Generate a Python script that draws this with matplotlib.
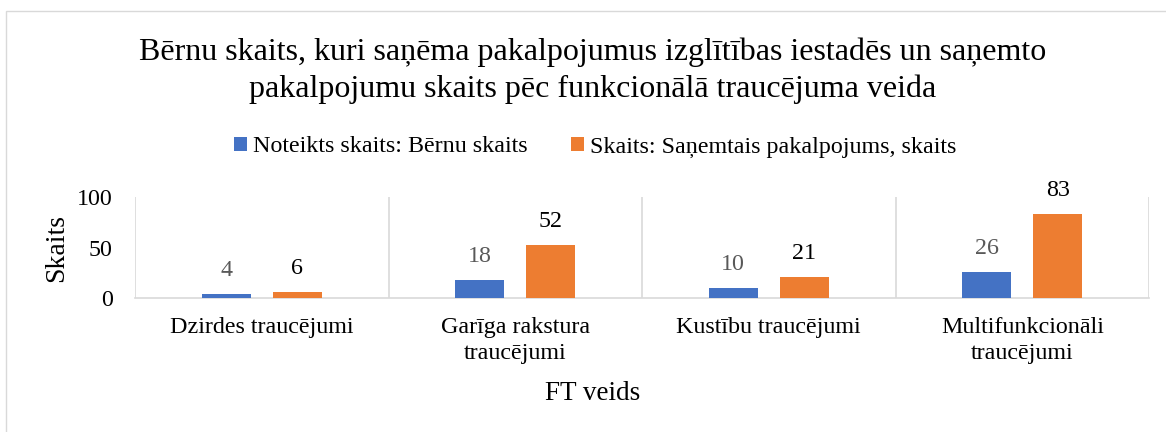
import matplotlib
matplotlib.use("Agg")
import matplotlib.pyplot as plt
import numpy as np
from matplotlib.patches import Rectangle

categories = ["Dzirdes traucējumi", "Garīga rakstura\ntraucējumi",
              "Kustību traucējumi", "Multifunkcionāli\ntraucējumi"]
bernu_skaits = [4, 18, 10, 26]
pakalpojumi = [6, 52, 21, 83]
series_names = ["Noteikts skaits: Bērnu skaits", "Skaits: Saņemtais pakalpojums, skaits"]
yticks = [0, 50, 100]

plt.rcParams['font.family'] = ['Liberation Serif', 'DejaVu Serif']

W, H = 1166, 432
fig = plt.figure(figsize=(W / 100, H / 100), dpi=100)

# outer border
fig.add_artist(Rectangle((6 / W, -0.1), 1.2, (H - 11) / H + 0.1, transform=fig.transFigure,
                         fill=False, edgecolor='#D9D9D9', linewidth=1.0))

ax = fig.add_axes([135 / W, (H - 298) / H, (1149 - 135) / W, (298 - 197) / H])
x = np.arange(len(categories))
bw = 0.195
off = 0.14
blue, orange = '#4472C4', '#ED7D31'
b1 = ax.bar(x - off, bernu_skaits, bw, color=blue, label=series_names[0], zorder=3)
b2 = ax.bar(x + off, pakalpojumi, bw, color=orange, label=series_names[1], zorder=3)

fs = 17.3
for rect, v in zip(b1, bernu_skaits):
    ax.annotate(str(v), (rect.get_x() + rect.get_width() / 2, v), xytext=(0, 17),
                textcoords='offset points', ha='center', va='center', fontsize=fs, color='#595959')
for rect, v in zip(b2, pakalpojumi):
    ax.annotate(str(v), (rect.get_x() + rect.get_width() / 2, v), xytext=(0, 17),
                textcoords='offset points', ha='center', va='center', fontsize=fs, color='black')

ax.set_xlim(-0.5, len(categories) - 0.5)
ax.set_ylim(0, 100)
ax.set_yticks(yticks)
ax.set_xticks(x)
ax.set_xticklabels(categories, fontsize=fs, linespacing=1.3)
ax.tick_params(axis='both', length=0, labelsize=fs)
ax.tick_params(axis='x', pad=14)
ax.tick_params(axis='y', pad=16)
for s in ['top', 'right', 'left']:
    ax.spines[s].set_visible(False)
ax.spines['bottom'].set_color('#D9D9D9')
ax.spines['bottom'].set_linewidth(1.2)
for b in np.arange(-0.5, len(categories), 1.0):
    ax.axvline(b, color='#D9D9D9', linewidth=1.2, zorder=1)

ax.set_ylabel("Skaits", fontsize=20, labelpad=6)
fig.text(593 / W, 1 - 394 / H, "FT veids", ha='center', va='center', fontsize=19.5)

fig.text(593 / W, 1 - 71 / H,
         "Bērnu skaits, kuri saņēma pakalpojumus izglītības iestadēs un saņemto\n"
         "pakalpojumu skaits pēc funkcionālā traucējuma veida",
         ha='center', va='center', fontsize=23, linespacing=1.32)

fig.legend(handles=[b1, b2], labels=series_names, loc='center', bbox_to_anchor=(595 / W, 1 - 147 / H),
           ncol=2, frameon=False, fontsize=fs, handlelength=0.55, handleheight=0.55,
           handletextpad=0.25, columnspacing=1.8)

fig.savefig("out.png", dpi=100)
